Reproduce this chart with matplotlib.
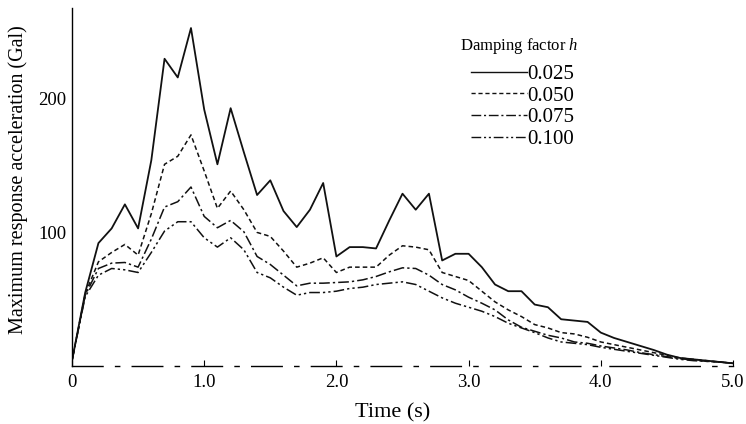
import matplotlib
matplotlib.use("Agg")
import matplotlib.pyplot as plt
import numpy as np

time_s = [round(0.1 * i, 1) for i in range(51)]

h025 = [4, 55, 92, 103, 121, 103, 154, 230, 216, 253,
        192, 151, 193, 160, 128, 139, 116, 104, 117, 137,
        82, 89, 89, 88, 109, 129, 117, 129, 79, 84,
        84, 74, 61, 56, 56, 46, 44, 35, 34, 33,
        25, 21, 18, 15, 12, 8.5, 6, 5, 4, 3, 2]
h050 = [4, 54, 78, 85, 91, 83, 114, 151, 157, 173,
        146, 118, 131, 117, 100, 97, 86, 74, 77, 81,
        70, 74, 74, 74, 83, 90, 89, 87, 70, 67,
        64, 56, 48, 42, 37, 31, 28.5, 25, 24, 21.5,
        18, 16, 14, 12, 10, 8, 6, 5, 4, 3, 2]
h075 = [4, 53, 73, 77, 77.5, 74, 95, 119, 123, 134,
        112, 103.5, 109, 100.5, 82, 76, 68, 60, 62, 62,
        62.5, 63, 64.5, 67, 70.5, 73.5, 73, 68, 61, 57,
        51.5, 47, 42, 34.5, 29, 26, 23, 21, 18, 17,
        15, 13.5, 12, 10, 8.5, 7, 5.5, 4.5, 3.5, 3, 2]
h100 = [4, 52, 68, 73, 72, 70, 85, 101, 108, 108,
        96, 89, 96, 87, 70, 66, 59, 53, 55, 55,
        56, 58, 59, 61, 62, 63, 61, 56, 51, 47,
        44, 41, 37, 32, 28.5, 25, 21, 18, 17, 16,
        14, 12.5, 11, 9.5, 8, 6.5, 5, 4, 3.5, 3, 2]

series_labels = ["0.025", "0.050", "0.075", "0.100"]
legend_title = "Damping factor $h$"
x_ticks = [0, 1.0, 2.0, 3.0, 4.0, 5.0]
x_tick_labels = ["0", "1.0", "2.0", "3.0", "4.0", "5.0"]
y_ticks = [100, 200]
y_tick_labels = ["100", "200"]

plt.rcParams['font.family'] = ['Liberation Serif', 'DejaVu Serif']
plt.rcParams['mathtext.fontset'] = 'custom'
plt.rcParams['mathtext.it'] = 'Liberation Serif:italic'

fig = plt.figure(figsize=(7.46, 4.24), dpi=100)
ax = fig.add_axes([72/746, (424-366)/424, 661/746, 358/424])

styles = ['-', (0, (3, 2)), (0, (7, 2, 1.5, 2)), (0, (7, 2, 1.5, 2, 1.5, 2))]
widths = [1.3, 1.1, 1.1, 1.1]
for data, lab, ls, lw in zip([h025, h050, h075, h100], series_labels, styles, widths):
    ax.plot(time_s, data, color='#111111', linestyle=ls, linewidth=lw, label=lab)

ax.set_xlim(0, 5.0)
ax.set_ylim(0, 268)
for s in ['top', 'right']:
    ax.spines[s].set_visible(False)
ax.spines['left'].set_linewidth(1.0)
ax.spines['bottom'].set_linewidth(1.0)
ax.spines['bottom'].set_linestyle((0, (22, 9, 3, 9)))

ax.set_xticks(x_ticks)
ax.set_xticklabels(x_tick_labels, fontsize=13.5)
ax.set_yticks(y_ticks)
ax.set_yticklabels(y_tick_labels, fontsize=13.5)
ax.tick_params(axis='x', direction='in', length=4, width=0.8, pad=6)
ax.tick_params(axis='y', direction='in', length=0, pad=4)

ax.set_xlabel("Time (s)", fontsize=16)
ax.xaxis.set_label_coords((393 - 72) / 661, -0.105)
ax.set_ylabel("Maximum response acceleration (Gal)", fontsize=14.5)
ax.yaxis.set_label_coords(-(72 - 28) / 661, 0.52)

leg = ax.legend(frameon=False, fontsize=15,
                handlelength=2.65, handletextpad=0.05,
                labelspacing=0.1, loc='upper left',
                bbox_to_anchor=(463/746, 1 - 56/424),
                bbox_transform=fig.transFigure, borderaxespad=0)
for line in leg.get_lines():
    line.set_linewidth(1.0)
fig.text(460/746, 1 - 46/424, legend_title, fontsize=12, va='center', ha='left')

fig.savefig("out.png", dpi=100)
